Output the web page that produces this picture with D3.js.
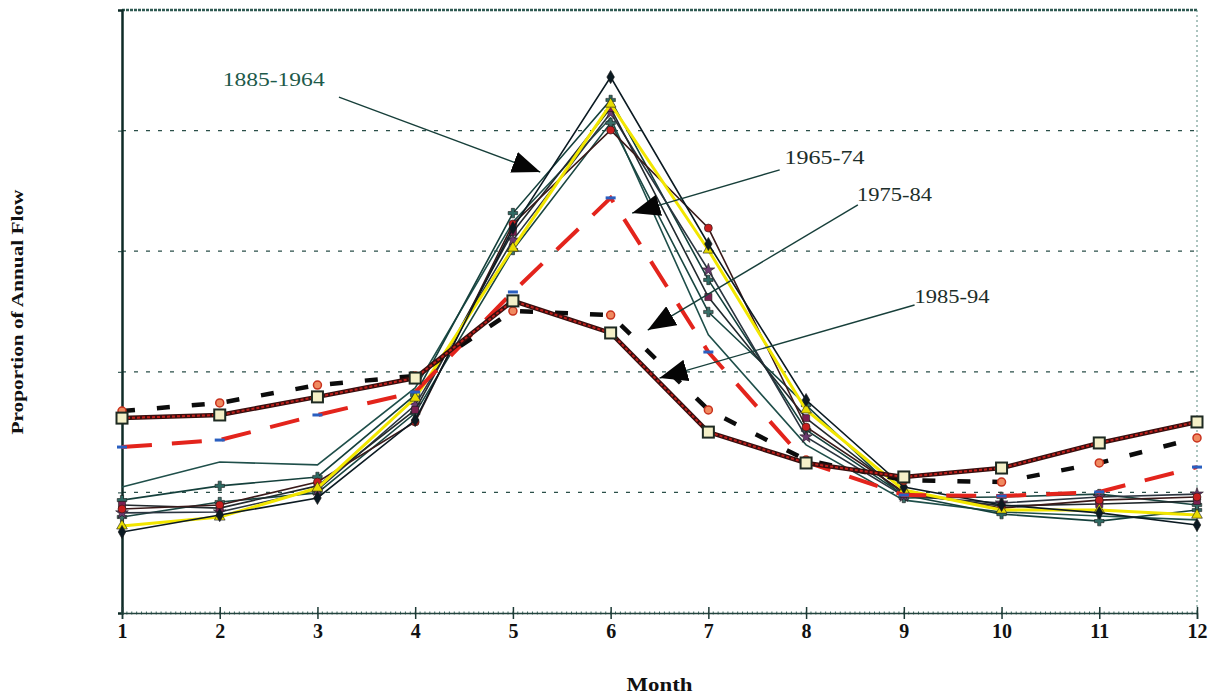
<!DOCTYPE html>
<html>
<head>
<meta charset="utf-8">
<script src="https://cdn.jsdelivr.net/npm/d3@7"></script>
<style>
  body { margin: 0; background: #fff; }
  text { font-family: "Liberation Serif", "Times New Roman", serif; }
</style>
</head>
<body>
<div id="flow-chart"></div>
<script>
// months on the x axis
var months = [1, 2, 3, 4, 5, 6, 7, 8, 9, 10, 11, 12];
var yTicks = [0.05, 0.10, 0.15, 0.20];

// 1885-1964 decades (thin solid lines)
var decade1885 = [0.0336, 0.0406, 0.0477, 0.0800, 0.1596, 0.2222, 0.1530, 0.0883, 0.0522, 0.0448, 0.0415, 0.0365];
var decade1895 = [0.0361, 0.0398, 0.0518, 0.0891, 0.1513, 0.2110, 0.1505, 0.0842, 0.0510, 0.0427, 0.0427, 0.0406];
var decade1905 = [0.0522, 0.0626, 0.0614, 0.0933, 0.1621, 0.2052, 0.1153, 0.0697, 0.0468, 0.0419, 0.0402, 0.0386];
var decade1915 = [0.0468, 0.0527, 0.0564, 0.0904, 0.1658, 0.2127, 0.1381, 0.0759, 0.0489, 0.0410, 0.0381, 0.0427];
var decade1925 = [0.0431, 0.0448, 0.0543, 0.0792, 0.1613, 0.2002, 0.1596, 0.0771, 0.0502, 0.0435, 0.0468, 0.0481];
var decade1935 = [0.0448, 0.0435, 0.0527, 0.0842, 0.1580, 0.2094, 0.1310, 0.0808, 0.0493, 0.0444, 0.0452, 0.0464];
var decade1945 = [0.0415, 0.0419, 0.0510, 0.0862, 0.1546, 0.2073, 0.1422, 0.0730, 0.0485, 0.0456, 0.0481, 0.0493];
var decade1955 = [0.0398, 0.0460, 0.0498, 0.0829, 0.1505, 0.2032, 0.1248, 0.0862, 0.0477, 0.0481, 0.0493, 0.0448];

// later periods
var flow1965 = [0.0688, 0.0717, 0.0821, 0.0916, 0.1331, 0.1721, 0.1082, 0.0626, 0.0489, 0.0485, 0.0502, 0.0605];
var flow1975 = [0.0837, 0.0871, 0.0945, 0.0983, 0.1252, 0.1235, 0.0842, 0.0634, 0.0551, 0.0543, 0.0622, 0.0726];
var flow1985 = [0.0808, 0.0821, 0.0896, 0.0974, 0.1294, 0.1161, 0.0750, 0.0622, 0.0564, 0.0601, 0.0705, 0.0792];

// label text and arrows, in month / proportion units
var labelNames = ["1885-1964", "1965-74", "1975-84", "1985-94"];
var labelAt = [[2.03, 0.2185], [7.78, 0.1862], [8.52, 0.1708], [9.11, 0.1285]];
var labelWidth = [102, 80, 75, 75];
var arrowFrom = [[3.22, 0.2139], [7.73, 0.1837], [8.53, 0.1692], [9.11, 0.1277]];
var arrowTo = [[5.28, 0.1828], [6.22, 0.1658], [6.38, 0.1173], [6.50, 0.0974]];

var width = 1217;
var height = 698;
var margin = { top: 10, right: 20, bottom: 85, left: 122 };

var svg = d3.select("#flow-chart")
    .append("svg")
    .attr("width", width)
    .attr("height", height);

var x = d3.scaleLinear().domain([1, 12]).range([margin.left, width - margin.right]);
var y = d3.scaleLinear().domain([0, 0.25]).range([height - margin.bottom, margin.top]);

var teal = "#173f3a";

// plot frame: top and right borders are faint, hatched
svg.append("line")
    .attr("x1", x(1)).attr("x2", x(12))
    .attr("y1", y(0.25)).attr("y2", y(0.25))
    .attr("stroke", "#2f5a52").attr("stroke-width", 2.5)
    .attr("stroke-dasharray", "3,1");
svg.append("line")
    .attr("x1", x(12)).attr("x2", x(12))
    .attr("y1", y(0.25)).attr("y2", y(0))
    .attr("stroke", "#5a8a80").attr("stroke-width", 1)
    .attr("stroke-dasharray", "2,3");

// gridlines
svg.append("g")
    .selectAll("line")
    .data(yTicks)
    .join("line")
    .attr("x1", x(1)).attr("x2", x(12))
    .attr("y1", d => y(d)).attr("y2", d => y(d))
    .attr("stroke", "#2b4f49")
    .attr("stroke-width", 1.3)
    .attr("stroke-dasharray", "4,8");

// y axis (no labels in the source)
svg.append("g")
    .attr("transform", "translate(" + x(1) + ",0)")
    .call(d3.axisLeft(y).tickValues(yTicks).tickSize(4).tickFormat(""))
    .call(g => g.select(".domain").attr("stroke", "#0e2b27").attr("stroke-width", 2.5))
    .call(g => g.selectAll(".tick line").attr("stroke", teal));

// x axis with hatched minor ticks
var minorTicks = d3.range(1, 12.001, 1 / 20);
svg.append("g")
    .selectAll("line")
    .data(minorTicks)
    .join("line")
    .attr("x1", d => x(d)).attr("x2", d => x(d))
    .attr("y1", y(0) - 1.5).attr("y2", y(0) + 1.5)
    .attr("stroke", "#3d6a62").attr("stroke-width", 1);

svg.append("g")
    .attr("transform", "translate(0," + y(0) + ")")
    .call(d3.axisBottom(x).tickValues(months).tickSize(6).tickPadding(5).tickFormat(d3.format("d")))
    .call(g => g.select(".domain").attr("stroke", "#24443f").attr("stroke-width", 1.5))
    .call(g => g.selectAll(".tick line").attr("y1", -6).attr("y2", 6).attr("stroke", "#1d3a36").attr("stroke-width", 1.5))
    .call(g => g.selectAll(".tick text")
        .attr("font-family", "Liberation Serif, serif")
        .attr("font-size", 20)
        .attr("font-weight", "bold")
        .attr("fill", "#111"));

svg.append("text")
    .attr("x", x(6.5))
    .attr("y", 691)
    .attr("text-anchor", "middle")
    .attr("font-size", 19)
    .attr("font-weight", "bold")
    .attr("fill", "#111")
    .attr("textLength", 66)
    .attr("lengthAdjust", "spacingAndGlyphs")
    .text("Month");

svg.append("text")
    .attr("transform", "translate(23," + 312 + ") rotate(-90)")
    .attr("text-anchor", "middle")
    .attr("font-size", 17)
    .attr("font-weight", "bold")
    .attr("fill", "#111")
    .attr("textLength", 245)
    .attr("lengthAdjust", "spacingAndGlyphs")
    .text("Proportion of Annual Flow");

var line = d3.line()
    .x((d, i) => x(months[i]))
    .y(d => y(d));

// the eight 1885-1964 decades
var decades = [
    { values: decade1905, color: "#1f4f4a", symbol: null, fill: "none" },
    { values: decade1915, color: "#15403c", symbol: d3.symbolCross, fill: "#2e6a63" },
    { values: decade1955, color: "#1a4641", symbol: d3.symbolCross, fill: "#3a6f68" },
    { values: decade1945, color: "#2b3540", symbol: d3.symbolStar, fill: "#6b3a70" },
    { values: decade1935, color: "#222a2e", symbol: d3.symbolSquare, fill: "#7a2050" },
    { values: decade1925, color: "#3a1a1a", symbol: d3.symbolCircle, fill: "#c81e1e" },
    { values: decade1895, color: "#f2e600", symbol: d3.symbolTriangle, fill: "#e8dc00" },
    { values: decade1885, color: "#0b1a22", symbol: d3.symbolDiamond, fill: "#0b1a22" }
];

decades.forEach(function (s) {
    svg.append("path")
        .datum(s.values)
        .attr("d", line)
        .attr("fill", "none")
        .attr("stroke", s.color)
        .attr("stroke-width", s.color === "#f2e600" ? 3 : 1.6);
    if (s.symbol) {
        svg.append("g")
            .selectAll("path")
            .data(s.values)
            .join("path")
            .attr("transform", (d, i) => "translate(" + x(months[i]) + "," + y(d) + ")")
            .attr("d", d3.symbol().type(s.symbol).size(50))
            .attr("fill", s.fill)
            .attr("stroke", "#1a1a1a")
            .attr("stroke-width", 0.6);
    }
});

// 1965-74: red long dashes
svg.append("path")
    .datum(flow1965)
    .attr("d", line)
    .attr("fill", "none")
    .attr("stroke", "#e3241c")
    .attr("stroke-width", 4)
    .attr("stroke-dasharray", "30,20");
svg.append("g")
    .selectAll("rect")
    .data(flow1965)
    .join("rect")
    .attr("x", (d, i) => x(months[i]) - 5)
    .attr("y", d => y(d) - 1.5)
    .attr("width", 10).attr("height", 3)
    .attr("fill", "#2a5fc0");

// 1975-84: black short dashes with orange circles
svg.append("path")
    .datum(flow1975)
    .attr("d", line)
    .attr("fill", "none")
    .attr("stroke", "#0c0c0c")
    .attr("stroke-width", 4.5)
    .attr("stroke-dasharray", "13,22");
svg.append("g")
    .selectAll("circle")
    .data(flow1975)
    .join("circle")
    .attr("cx", (d, i) => x(months[i]))
    .attr("cy", d => y(d))
    .attr("r", 4)
    .attr("fill", "#f08a60")
    .attr("stroke", "#c8321e")
    .attr("stroke-width", 1.5);

// 1985-94: thick dark red with cream squares
svg.append("path")
    .datum(flow1985)
    .attr("d", line)
    .attr("fill", "none")
    .attr("stroke", "#3a0e0e")
    .attr("stroke-width", 4.5);
svg.append("path")
    .datum(flow1985)
    .attr("d", line)
    .attr("fill", "none")
    .attr("stroke", "#c0201c")
    .attr("stroke-width", 2)
    .attr("stroke-dasharray", "3,2");
svg.append("g")
    .selectAll("rect")
    .data(flow1985)
    .join("rect")
    .attr("x", (d, i) => x(months[i]) - 5.5)
    .attr("y", d => y(d) - 5.5)
    .attr("width", 11).attr("height", 11)
    .attr("fill", "#f4f0c8")
    .attr("stroke", "#1e2a22")
    .attr("stroke-width", 2);

// annotations
svg.append("defs")
    .append("marker")
    .attr("id", "arrowhead")
    .attr("markerUnits", "userSpaceOnUse")
    .attr("markerWidth", 30).attr("markerHeight", 22)
    .attr("refX", 28).attr("refY", 11)
    .attr("orient", "auto")
    .append("path")
    .attr("d", "M0,0 L28,11 L0,22 Z")
    .attr("fill", "#050505");

labelNames.forEach(function (name, i) {
    svg.append("line")
        .attr("x1", x(arrowFrom[i][0])).attr("y1", y(arrowFrom[i][1]))
        .attr("x2", x(arrowTo[i][0])).attr("y2", y(arrowTo[i][1]))
        .attr("stroke", teal)
        .attr("stroke-width", 1.4)
        .attr("marker-end", "url(#arrowhead)");

    svg.append("text")
        .attr("x", x(labelAt[i][0]))
        .attr("y", y(labelAt[i][1]))
        .attr("font-size", 19)
        .attr("fill", i === 0 ? "#1d5a4a" : "#1c2e2a")
        .attr("textLength", labelWidth[i])
        .attr("lengthAdjust", "spacingAndGlyphs")
        .text(name);
});
</script>
</body>
</html>
